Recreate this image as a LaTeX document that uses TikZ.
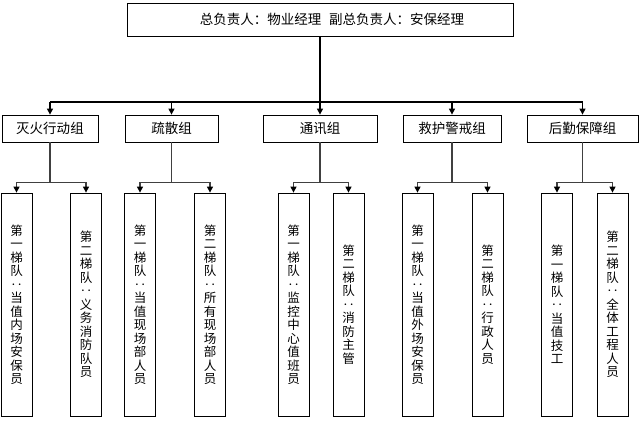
\documentclass[tikz,border=0pt]{standalone}
\usepackage{fontspec}
\setmainfont{Noto Sans CJK SC}
\usetikzlibrary{arrows.meta}
\begin{document}
\begin{tikzpicture}[x=1pt,y=-1pt,
  topbox/.style={draw=black, line width=0.8pt, inner sep=0pt, minimum width=386pt, minimum height=33pt},
  grp/.style={draw=black, line width=0.8pt, inner sep=0pt, minimum height=27pt, font=\fontsize{13.5}{16}\selectfont},
  vbox/.style={draw=black, line width=0.8pt, inner sep=0pt, minimum width=31pt, minimum height=223pt, align=center, font=\fontsize{12.5}{13.5}\selectfont},
  bus/.style={line width=1.2pt, draw=black},
  arr/.style={line width=1.2pt, draw=black, -{Triangle[width=6pt,length=6pt]}},
  sbus/.style={line width=1.2pt, draw=black!75},
  sarr/.style={line width=1.2pt, draw=black!75, -{Triangle[width=6pt,length=6pt,color=black]}}
]
\useasboundingbox (0,0) rectangle (642,442);
\node[topbox] (top) at (320,19.5) {};
\node[font=\fontsize{13.5}{16}\selectfont, inner sep=0pt] (toptext) at (332,19.5) {总负责人：物业经理\hspace{8pt}副总负责人：安保经理};

\node[grp, minimum width=96pt]  (g1) at (50,128.5) {灭火行动组};
\node[grp, minimum width=93pt]  (g2) at (171.5,128.5) {疏散组};
\node[grp, minimum width=114pt] (g3) at (320,128.5) {通讯组};
\node[grp, minimum width=98pt]  (g4) at (452,128.5) {救护警戒组};
\node[grp, minimum width=111pt] (g5) at (582.5,128.5) {后勤保障组};

\coordinate (tbus) at (320,102);
\draw[bus] (top.south) -- (tbus);
\draw[bus] (g1.north |- tbus) -- (g5.north |- tbus);
\foreach \g in {g1,g2,g3,g4,g5} \draw[arr] (\g.north |- tbus) -- (\g.north);

\node[vbox] (b1) at (16.5,304.5) {第\\一\\梯\\队\\‥\\当\\值\\内\\场\\安\\保\\员};
\node[vbox] (b2) at (86,304.5) {第\\二\\梯\\队\\‥\\义\\务\\消\\防\\队\\员};
\node[vbox] (b3) at (140,304.5) {第\\一\\梯\\队\\‥\\当\\值\\现\\场\\部\\人\\员};
\node[vbox] (b4) at (210,304.5) {第\\二\\梯\\队\\‥\\所\\有\\现\\场\\部\\人\\员};
\node[vbox] (b5) at (293.5,304.5) {第\\一\\梯\\队\\‥\\监\\控\\中\\心\\值\\班\\员};
\node[vbox] (b6) at (348.5,304.5) {第\\二\\梯\\队\\‥\\消\\防\\主\\管};
\node[vbox] (b7) at (417.5,304.5) {第\\一\\梯\\队\\‥\\当\\值\\外\\场\\安\\保\\员};
\node[vbox] (b8) at (487.5,304.5) {第\\二\\梯\\队\\‥\\行\\政\\人\\员};
\node[vbox] (b9) at (557,304.5) {第\\一\\梯\\队\\‥\\当\\值\\技\\工};
\node[vbox] (b10) at (612.5,304.5) {第\\二\\梯\\队\\‥\\全\\体\\工\\程\\人\\员};

\foreach \g/\l/\r in {g1/b1/b2, g2/b3/b4, g3/b5/b6, g4/b7/b8, g5/b9/b10} {
  \coordinate (\g bus) at ([yshift=-40pt]\g.south);
  \draw[sbus] (\g.south) -- (\g bus);
  \draw[sbus] (\l.north |- \g bus) -- (\r.north |- \g bus);
  \draw[sarr] (\l.north |- \g bus) -- (\l.north);
  \draw[sarr] (\r.north |- \g bus) -- (\r.north);
}
\end{tikzpicture}
\end{document}
